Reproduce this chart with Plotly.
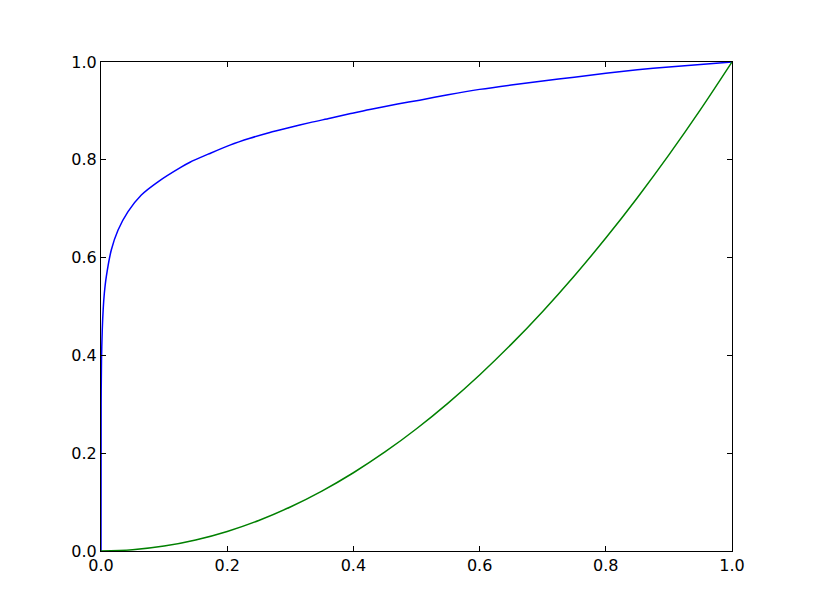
import plotly.graph_objects as go

# values
blue_x = [0.0, 0.0002, 0.0008, 0.002, 0.0035, 0.0053, 0.0084, 0.0164, 0.0269, 0.0428,
          0.0639, 0.0903, 0.127, 0.141, 0.1726, 0.2043, 0.236, 0.2676, 0.299, 0.331,
          0.363, 0.394, 0.426, 0.47, 0.505, 0.55, 0.6, 0.65, 0.7, 0.75, 0.8, 0.85,
          0.9, 0.95, 1.0]
blue_y = [0.0, 0.30, 0.39, 0.452, 0.495, 0.527, 0.561, 0.616, 0.656, 0.694,
          0.728, 0.755, 0.785, 0.795, 0.813, 0.830, 0.844, 0.856, 0.866, 0.876,
          0.885, 0.894, 0.903, 0.914, 0.922, 0.933, 0.944, 0.953, 0.961, 0.969, 0.977, 0.984,
          0.990, 0.995, 1.0]

green_x = [0.0, 0.05, 0.1, 0.15, 0.2, 0.25, 0.3, 0.35, 0.4, 0.45, 0.5, 0.55, 0.6, 0.65,
           0.7, 0.75, 0.8, 0.85, 0.9, 0.95, 1.0]
green_y = [0.0, 0.0025, 0.01, 0.0225, 0.04, 0.0625, 0.09, 0.1225, 0.16, 0.2025, 0.25,
           0.3025, 0.36, 0.4225, 0.49, 0.5625, 0.64, 0.7225, 0.81, 0.9025, 1.0]

tick_vals = [0.0, 0.2, 0.4, 0.6, 0.8, 1.0]
tick_text = ["0.0", "0.2", "0.4", "0.6", "0.8", "1.0"]

fig = go.Figure()
fig.add_trace(go.Scatter(x=blue_x, y=blue_y, mode="lines",
                         line=dict(color="#0000ff", width=1.5, shape="spline", smoothing=0.8)))
fig.add_trace(go.Scatter(x=green_x, y=green_y, mode="lines",
                         line=dict(color="#008000", width=1.5, shape="spline")))

axis_style = dict(range=[0, 1], tickvals=tick_vals, ticktext=tick_text,
                  showgrid=False, zeroline=False, showline=True, linecolor="black",
                  linewidth=1, mirror="ticks", ticks="inside", ticklen=5,
                  tickcolor="black", tickfont=dict(family="DejaVu Sans", size=16, color="black"))

fig.update_xaxes(**axis_style)
fig.update_yaxes(**axis_style)
# page offsets the plot by ~8px, so margins are shifted to land on the reference box
fig.update_layout(width=813, height=613, showlegend=False,
                  margin=dict(l=93, r=89, t=54, b=70),
                  paper_bgcolor="white", plot_bgcolor="white")
fig.write_html("out.html")
